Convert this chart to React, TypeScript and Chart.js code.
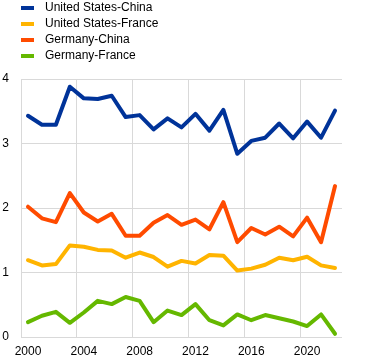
import React, { useEffect, useRef } from 'react';
import { Chart, registerables } from 'chart.js';

Chart.register(...registerables);

const years = ['2000','2001','2002','2003','2004','2005','2006','2007','2008','2009','2010','2011','2012','2013','2014','2015','2016','2017','2018','2019','2020','2021','2022'];
const shownYears = ['2000','2004','2008','2012','2016','2020'];
const yTicks = [0, 1, 2, 3, 4];

const usChina = [3.43,3.29,3.29,3.88,3.70,3.69,3.74,3.41,3.44,3.22,3.39,3.25,3.46,3.20,3.52,2.84,3.04,3.09,3.31,3.08,3.34,3.09,3.51];
const usFrance = [1.19,1.11,1.13,1.42,1.40,1.35,1.34,1.23,1.31,1.24,1.09,1.18,1.14,1.27,1.26,1.03,1.06,1.12,1.23,1.19,1.245,1.11,1.07];
const deChina = [2.02,1.84,1.78,2.23,1.93,1.79,1.91,1.57,1.57,1.77,1.89,1.74,1.82,1.67,2.09,1.47,1.69,1.59,1.71,1.56,1.85,1.47,2.34];
const deFrance = [0.23,0.33,0.39,0.22,0.38,0.56,0.51,0.62,0.56,0.23,0.41,0.34,0.51,0.26,0.18,0.35,0.26,0.34,0.29,0.24,0.17,0.35,0.05];

const seriesNames = ['United States-China','United States-France','Germany-China','Germany-France'];
const seriesColors = ['#003399','#FFB400','#FF4B00','#65B800'];

const FONT = 'Arial, "Liberation Sans", sans-serif';
const GRID = '#d9d9d9';

const legendPlugin = {
  id: 'customLegend',
  afterDraw(chart: any) {
    const ctx = chart.ctx;
    ctx.save();
    chart.data.datasets.forEach((ds: any, i: number) => {
      const y = 8 + i * 16;
      ctx.fillStyle = ds.borderColor;
      ctx.fillRect(21, y - 2, 13, 4);
      ctx.fillStyle = '#000';
      ctx.font = '12px ' + FONT;
      ctx.textBaseline = 'middle';
      ctx.textAlign = 'left';
      ctx.fillText(ds.label, 45, y);
    });
    ctx.restore();
  },
};

export default function App() {
  const ref = useRef<HTMLCanvasElement | null>(null);

  useEffect(() => {
    if (!ref.current) return;
    Chart.defaults.font.family = FONT;
    Chart.defaults.font.size = 12;
    Chart.defaults.color = '#000';
    const allSeries = [usChina, usFrance, deChina, deFrance];
    const chart = new Chart(ref.current, {
      type: 'line',
      data: {
        labels: years,
        datasets: allSeries.map((d, i) => ({
          label: seriesNames[i],
          data: d,
          borderColor: seriesColors[i],
          backgroundColor: seriesColors[i],
          borderWidth: 4,
          borderCapStyle: 'round',
          borderJoinStyle: 'round',
          pointRadius: 0,
          tension: 0,
          fill: false,
        })),
      },
      options: {
        animation: false,
        responsive: true,
        maintainAspectRatio: false,
        layout: { padding: { top: 79, right: 28, left: 0, bottom: 0 } },
        plugins: {
          legend: { display: false },
          tooltip: { enabled: false },
        },
        scales: {
          x: {
            type: 'category',
            offset: true,
            border: { display: false },
            grid: {
              offset: true,
              drawTicks: false,
              color: (c: any) => (c.index % 4 === 0 ? GRID : 'rgba(0,0,0,0)'),
            },
            ticks: {
              autoSkip: false,
              maxRotation: 0,
              padding: 7,
              font: { size: 12 },
              color: '#000',
              callback: function (this: any, value: any) {
                const lab = years[value as number];
                return shownYears.includes(lab) ? lab : '';
              },
            },
            afterFit: (s: any) => { s.height = 26; },
          },
          y: {
            min: yTicks[0],
            max: yTicks[yTicks.length - 1],
            border: { display: false },
            grid: { color: GRID, drawTicks: false },
            ticks: { stepSize: 1, padding: 12, font: { size: 12 }, color: '#000' },
            afterFit: (s: any) => { s.width = 21; },
          },
        },
      },
      plugins: [legendPlugin],
    });
    return () => chart.destroy();
  }, []);

  return (
    <div style={{ position: 'fixed', left: 0, top: 0, width: 370, height: 363, background: '#fff' }}>
      <canvas ref={ref} />
    </div>
  );
}
